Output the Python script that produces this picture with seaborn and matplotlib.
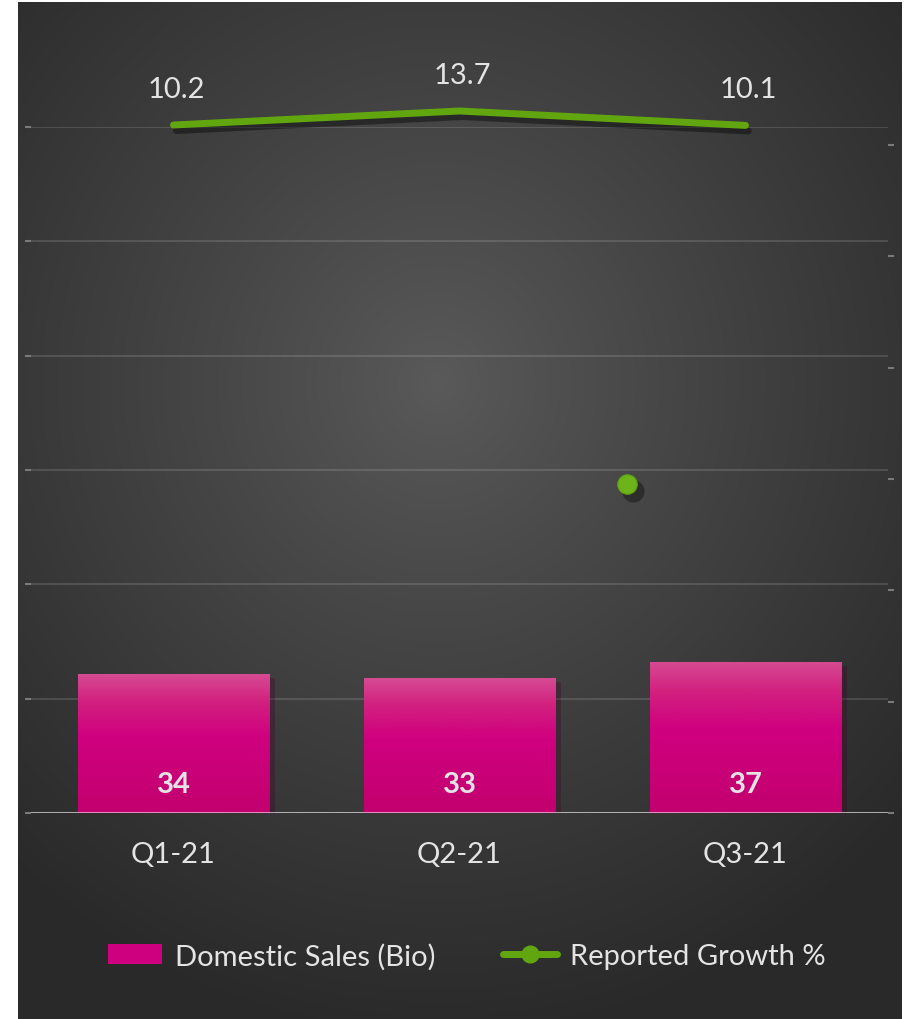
import numpy as np
import matplotlib
matplotlib.use("Agg")
import matplotlib.pyplot as plt
import seaborn as sns
from matplotlib.colors import LinearSegmentedColormap
from matplotlib.patches import Patch
from matplotlib.lines import Line2D
import matplotlib.patheffects as pe
import matplotlib.transforms as mtransforms

# ---------------------------------------------------------------------------
# Data
# ---------------------------------------------------------------------------
quarters = ["Q1-21", "Q2-21", "Q3-21"]
domestic_sales = [34, 33, 37]          # bars, left axis
reported_growth = [10.2, 13.7, 10.1]   # green line, right axis
# a lone green point sits between Q2 and Q3 on the right-axis scale
stray_x = [1.587]
stray_value = [-79.5]

BAR_LABEL = "Domestic Sales (Bio)"
LINE_LABEL = "Reported Growth %"

# ---------------------------------------------------------------------------
# Style
# ---------------------------------------------------------------------------
sns.set_theme(style="white")
plt.rcParams["font.family"] = ["Lato", "DejaVu Sans"]

PINK = "#cf007f"
GREEN = "#62a60f"
TEXT = "#e4e4e4"
FS = 21

W, H = 909, 1020
fig = plt.figure(figsize=(W / 100, H / 100), dpi=100)
fig.patch.set_facecolor("white")

# dark panel with a soft radial highlight
bg = fig.add_axes([18 / W, 0, 884 / W, 1017 / H])
bg.set_axis_off()
yy, xx = np.mgrid[0:1017, 0:884]
r = np.hypot((xx - 420) / 1.0, (yy - 380) / 1.05)
shade = np.clip(r / 620, 0, 1) ** 0.9
bg_cmap = LinearSegmentedColormap.from_list("bg", ["#5a5a5a", "#2a2a2a"])
bg.imshow(shade, cmap=bg_cmap, aspect="auto", vmin=0, vmax=1)

# main axes: plot area 30..888 px wide, 128..814 px tall
ax = fig.add_axes([30.5 / W, 1 - 814 / H, 858 / W, 686 / H])
ax.patch.set_alpha(0)

sns.barplot(x=quarters, y=domestic_sales, ax=ax, color=PINK, width=0.67,
            saturation=1, linewidth=0, zorder=3)
ax.set_xlim(-0.5, 2.5)
ax.set_ylim(0, 168)
ax.set_yticks(np.arange(0, 169, 28))
ax.yaxis.grid(True, color="white", alpha=0.13, lw=1.5)
ax.set_axisbelow(True)
for s in ax.spines.values():
    s.set_visible(False)

# vertical gradient on each bar, plus a light drop shadow
grad_cmap = LinearSegmentedColormap.from_list(
    "barg", [(0, "#c2006e"), (0.55, "#d0007f"), (0.8, "#d2207f"), (1, "#d64b92")])
grad = np.linspace(0, 1, 256).reshape(-1, 1)
for bar in ax.patches:
    bar.set_path_effects([pe.SimplePatchShadow(offset=(4, -3), alpha=0.3), pe.Normal()])
    x0, y0 = bar.get_x(), bar.get_y()
    w, h = bar.get_width(), bar.get_height()
    im = ax.imshow(grad, extent=[x0, x0 + w, y0, y0 + h], origin="lower",
                   cmap=grad_cmap, aspect="auto", zorder=3.5)
    im.set_clip_path(bar)
ax.set_xlim(-0.5, 2.5)
ax.set_ylim(0, 168)

for i, v in enumerate(domestic_sales):
    ax.text(i, 7.0, f"{v}", ha="center", va="center", color=TEXT,
            fontsize=FS, fontweight="bold", zorder=6)

ax.axhline(0, color="white", alpha=0.55, lw=2.2, zorder=5)

ax.set_xlabel("")
ax.set_ylabel("")
ax.set_yticklabels([])
ax.tick_params(axis="x", length=0, pad=20, labelsize=FS, labelcolor=TEXT)
ax.tick_params(axis="y", left=True, length=4, width=1.5, color="#7a7a7a", pad=2)

# right axis for the growth line
ax2 = ax.twinx()
lo = -161.8
ax2.set_ylim(lo, lo + 171.5)
ax2.set_yticks(np.linspace(lo, lo + 167, 7))
ax2.set_yticklabels([])
ax2.tick_params(axis="y", right=True, length=4, width=1.5, color="#7a7a7a")
for s in ax2.spines.values():
    s.set_visible(False)

sns.lineplot(x=[0, 1, 2], y=reported_growth, ax=ax2, color=GREEN, lw=5,
             zorder=6, clip_on=False)
line = ax2.lines[-1]
line.set_solid_capstyle("round")
line.set_solid_joinstyle("round")
line.set_path_effects([pe.SimpleLineShadow(offset=(2, -4), alpha=0.4, shadow_color="black"),
                       pe.Normal()])

# stray point with a soft offset shadow
shadow_tr = ax2.transData + mtransforms.ScaledTranslation(6 / 100, -7 / 100, fig.dpi_scale_trans)
ax2.plot(stray_x, stray_value, "o", color="black", alpha=0.35, ms=16, mew=0,
         transform=shadow_tr, clip_on=False, zorder=5)
ax2.plot(stray_x, stray_value, "o", color="#6cb41a", ms=14, mec="#5ea012",
         mew=0.8, clip_on=False, zorder=6)

for i, v in enumerate(reported_growth):
    ax2.annotate(f"{v}", (i, v), xytext=(2, 26), textcoords="offset points",
                 ha="center", va="center", color=TEXT, fontsize=FS,
                 annotation_clip=False)

ax2.set_ylabel("")
ax.set_xlim(-0.5, 2.5)

handles = [
    Patch(facecolor=PINK, edgecolor="none", label=BAR_LABEL),
    Line2D([0], [0], color=GREEN, lw=5, marker="o", ms=12, solid_capstyle="round",
           label=LINE_LABEL),
]
leg = fig.legend(handles=handles, loc="center", bbox_to_anchor=(467 / W, 1 - 957 / H),
                 ncol=2, frameon=False, fontsize=FS, handlelength=1.85,
                 handletextpad=0.45, columnspacing=2.3)
for t in leg.get_texts():
    t.set_color(TEXT)

fig.savefig("out.png", dpi=100, facecolor=fig.get_facecolor())
